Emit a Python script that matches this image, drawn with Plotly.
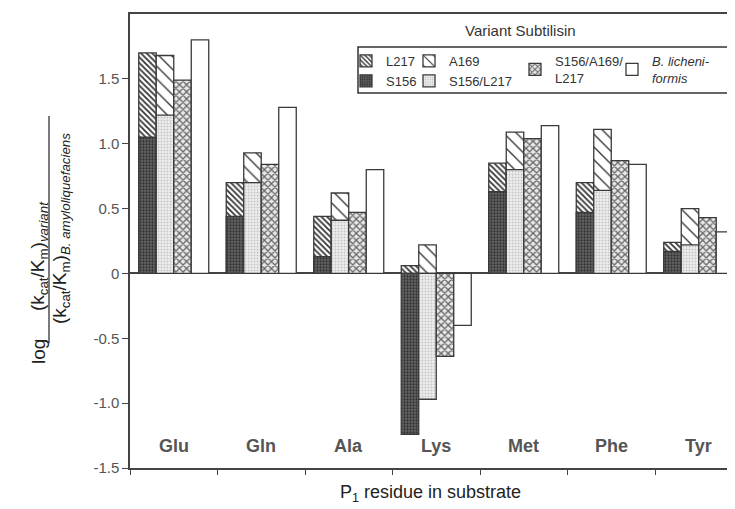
import plotly.graph_objects as go

categories = ["Glu", "Gln", "Ala", "Lys", "Met", "Phe", "Tyr"]
l217 = [1.70, 0.70, 0.44, 0.06, 0.85, 0.70, 0.24]
s156 = [1.05, 0.44, 0.13, -1.24, 0.63, 0.47, 0.17]
a169 = [1.68, 0.93, 0.62, 0.22, 1.09, 1.11, 0.50]
s156_l217 = [1.22, 0.70, 0.41, -0.97, 0.80, 0.64, 0.22]
s156_a169_l217 = [1.49, 0.84, 0.47, -0.64, 1.04, 0.87, 0.43]
b_licheniformis = [1.80, 1.28, 0.80, -0.40, 1.14, 0.84, 0.32]

y_tickvals = [-1.5, -1.0, -0.5, 0, 0.5, 1.0, 1.5]
y_ticktext = ["-1.5", "-1.0", "-0.5", "0", "0.5", "1.0", "1.5"]

LINE = dict(color="#3a3a3a", width=1.3)
FONT = "Liberation Sans, Arial, Helvetica, sans-serif"

def bar(name, vals, group, legend, pattern, color="white"):
    return go.Bar(
        x=categories, y=vals, name=name, offsetgroup=group, alignmentgroup="all",
        legend=legend,
        marker=dict(color=color, line=LINE, pattern=pattern),
    )

fig = go.Figure()
fig.add_trace(bar("L217", l217, "1", "legend",
                  dict(shape="\\", size=4, solidity=0.45, fgcolor="#333333", bgcolor="white", fillmode="replace")))
fig.add_trace(bar("S156", s156, "1", "legend",
                  dict(shape=".", size=3, solidity=0.45, fgcolor="#333333", bgcolor="#666666", fillmode="replace")))
fig.add_trace(bar("A169", a169, "2", "legend2",
                  dict(shape="\\", size=9, solidity=0.15, fgcolor="#333333", bgcolor="white", fillmode="replace")))
fig.add_trace(bar("S156/L217", s156_l217, "2", "legend2",
                  dict(shape=".", size=3, solidity=0.35, fgcolor="#c4c4c4", bgcolor="#efefef", fillmode="replace")))
fig.add_trace(bar("S156/A169/<br>L217", s156_a169_l217, "3", "legend3",
                  dict(shape="x", size=5, solidity=0.45, fgcolor="#666666", bgcolor="#e8e8e8", fillmode="replace")))
fig.add_trace(bar("<i>B. licheni-</i><br><i>formis</i>", b_licheniformis, "4", "legend4",
                  dict(shape=""), color="white"))

# the page places the figure 8 px in from the window's top-left corner
OFF = 8
WIN_W, WIN_H = 735, 509
W, H = WIN_W - OFF, WIN_H - OFF
# plot area in window pixels
PL, PR, PT, PB = 130, 735, 14, 468
ML, MR, MT, MB = PL - OFF, WIN_W - PR, PT - OFF, WIN_H - PB
PW = PR - PL
PH = PB - PT

def px(xw):
    return (xw - PL) / PW

def py(yw):
    return (PB - yw) / PH

leg_common = dict(orientation="v", xanchor="left", yanchor="top", bgcolor="rgba(0,0,0,0)",
                  borderwidth=0, font=dict(family=FONT, size=13, color="#333333"),
                  tracegroupgap=0, itemclick=False)
legend_y = py(46)

fig.update_layout(
    width=W, height=H,
    margin=dict(l=ML, r=MR, t=MT, b=MB, autoexpand=False),
    paper_bgcolor="white", plot_bgcolor="white",
    font=dict(family=FONT, color="#333333"),
    barmode="group", bargap=0.2, bargroupgap=0,
    showlegend=True,
    legend=dict(x=px(346), y=legend_y, **leg_common),
    legend2=dict(x=px(409), y=legend_y, **leg_common),
    legend3=dict(x=px(515), y=legend_y, **leg_common),
    legend4=dict(x=px(612), y=legend_y, **leg_common),
    xaxis=dict(
        type="category", range=[-0.5, -0.5 + PW / 87.5],
        showline=True, linecolor="#444444", linewidth=1.5, mirror=True,
        ticks="outside", tickson="boundaries", ticklen=5, tickcolor="#444444",
        showticklabels=False, showgrid=False, zeroline=False,
    ),
    yaxis=dict(
        range=[-1.5, 2.0], showline=True, linecolor="#444444", linewidth=1.5,
        ticks="outside", ticklen=6, tickcolor="#444444",
        tickvals=y_tickvals, ticktext=y_ticktext,
        tickfont=dict(family=FONT, size=15, color="#555555"),
        showgrid=False, zeroline=True, zerolinecolor="#444444", zerolinewidth=1.5,
    ),
)

# category labels inside plot above bottom axis
for c in categories:
    fig.add_annotation(x=c, y=-1.5, xref="x", yref="y", text=c, showarrow=False,
                       yanchor="bottom", yshift=10,
                       font=dict(family=FONT, size=18, color="#555555", weight="bold"))

# x axis title
fig.add_annotation(x=px(430), y=py(493), xref="paper", yref="paper",
                   text="P<sub>1</sub> residue in substrate", showarrow=False,
                   xanchor="center", yanchor="middle",
                   font=dict(family=FONT, size=18, color="#222222"))

# legend title and frame
fig.add_annotation(x=px(520), y=py(30), xref="paper", yref="paper",
                   text="Variant Subtilisin", showarrow=False,
                   xanchor="center", yanchor="middle",
                   font=dict(family=FONT, size=15, color="#333333"))
fig.add_shape(type="rect", xref="paper", yref="paper",
              x0=px(358), x1=px(728), y0=py(93), y1=py(47),
              line=dict(color="#333333", width=1.5))

# y axis title as a fraction
fig.add_annotation(x=px(39), y=py(256), xref="paper", yref="paper",
                   text="(k<sub>cat</sub>/K<sub>m</sub>)<sub><i>variant</i></sub>",
                   textangle=-90, showarrow=False, xanchor="center", yanchor="middle",
                   font=dict(family=FONT, size=19, color="#222222"))
fig.add_shape(type="line", xref="paper", yref="paper",
              x0=px(49), x1=px(49), y0=py(343), y1=py(116),
              line=dict(color="#222222", width=1.2))
fig.add_annotation(x=px(61), y=py(229), xref="paper", yref="paper",
                   text="(k<sub>cat</sub>/K<sub>m</sub>)<sub><i>B. amyloliquefaciens</i></sub>",
                   textangle=-90, showarrow=False, xanchor="center", yanchor="middle",
                   font=dict(family=FONT, size=19, color="#222222"))
fig.add_annotation(x=px(38), y=py(352), xref="paper", yref="paper",
                   text="log", textangle=-90, showarrow=False,
                   xanchor="center", yanchor="middle",
                   font=dict(family=FONT, size=19, color="#222222"))

fig.write_html("out.html")
